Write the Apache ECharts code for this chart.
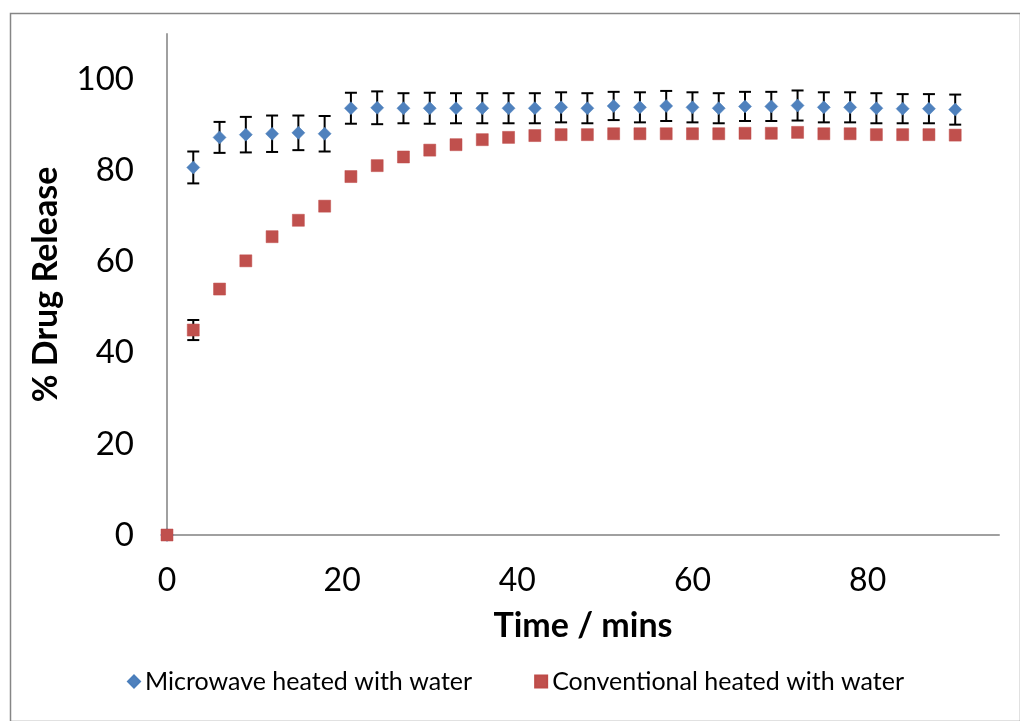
<!DOCTYPE html>
<html>
<head>
<meta charset="utf-8">
<title>% Drug Release</title>
<script src="https://cdn.jsdelivr.net/npm/echarts@6/dist/echarts.min.js"></script>
<style>
  html, body { margin: 0; padding: 0; background: #ffffff; }
  #chart { width: 1020px; height: 721px; }
</style>
</head>
<body>
<div id="chart"></div>
<script>
// Sampling times (minutes)
const timeMins = [0, 3, 6, 9, 12, 15, 18, 21, 24, 27, 30, 33, 36, 39, 42, 45,
  48, 51, 54, 57, 60, 63, 66, 69, 72, 75, 78, 81, 84, 87, 90];

// Mean % drug release, microwave heated with water
const microwave = [0, 80.7, 87.3, 87.9, 88.1, 88.3, 88.1, 93.7, 93.8, 93.7, 93.7,
  93.7, 93.7, 93.7, 93.7, 93.9, 93.7, 94.2, 93.9, 94.2, 93.9, 93.7,
  94.1, 94.1, 94.3, 93.9, 93.9, 93.7, 93.6, 93.6, 93.4];
// Standard deviation, microwave heated with water
const microwaveSd = [0, 3.5, 3.4, 3.9, 4.0, 3.8, 3.9, 3.4, 3.6, 3.3, 3.4,
  3.3, 3.3, 3.3, 3.3, 3.3, 3.3, 3.1, 3.3, 3.3, 3.3, 3.3,
  3.2, 3.2, 3.3, 3.3, 3.3, 3.3, 3.2, 3.2, 3.3];

// Mean % drug release, conventional heated with water
const conventional = [0, 45.0, 54.0, 60.2, 65.5, 69.1, 72.2, 78.7, 81.1, 83.0, 84.5,
  85.7, 86.8, 87.3, 87.7, 87.9, 87.9, 88.1, 88.1, 88.1, 88.1, 88.1,
  88.2, 88.2, 88.4, 88.1, 88.1, 87.9, 87.9, 87.9, 87.8];
// Standard deviation, conventional heated with water
const conventionalSd = [0, 2.2, 0, 0, 0, 0, 0, 0, 0, 0, 0,
  0, 0, 0, 0, 0, 0, 0, 0, 0, 0, 0,
  0, 0, 0, 0, 0, 0, 0, 0, 0];

const seriesNames = ['Microwave heated with water', 'Conventional heated with water'];
const xTicks = [0, 20, 40, 60, 80];
const yTicks = [0, 20, 40, 60, 80, 100];

const FONT = 'Lato, "Open Sans", sans-serif';
const BLUE = '#4F81BD';
const RED = '#C0504D';

function points(values) {
  return timeMins.map((t, i) => [t, values[i]]);
}
function errorData(values, sd) {
  const out = [];
  timeMins.forEach((t, i) => {
    if (sd[i] > 0) out.push([t, values[i] - sd[i], values[i] + sd[i]]);
  });
  return out;
}

// Vertical error bar with flat caps
function renderErrorBar(params, api) {
  const x = api.value(0);
  const lo = api.coord([x, api.value(1)]);
  const hi = api.coord([x, api.value(2)]);
  const half = 6;
  const style = { stroke: '#000000', lineWidth: 2, fill: null };
  return {
    type: 'group',
    children: [
      { type: 'line', shape: { x1: lo[0], y1: lo[1], x2: hi[0], y2: hi[1] }, style: style },
      { type: 'line', shape: { x1: lo[0] - half, y1: lo[1], x2: lo[0] + half, y2: lo[1] }, style: style },
      { type: 'line', shape: { x1: hi[0] - half, y1: hi[1], x2: hi[0] + half, y2: hi[1] }, style: style }
    ]
  };
}

const chart = echarts.init(document.getElementById('chart'), null, { renderer: 'canvas' });

chart.setOption({
  backgroundColor: '#ffffff',
  animation: false,
  graphic: [{
    type: 'rect',
    left: 8, top: 11,
    shape: { x: 0, y: 0, width: 1010, height: 708 },
    style: { fill: null, stroke: '#868686', lineWidth: 1.5 },
    silent: true,
    z: 0
  }],
  grid: { left: 167, right: 21, top: 34, bottom: 186, containLabel: false },
  legend: {
    data: [
      { name: seriesNames[0], icon: 'diamond' },
      { name: seriesNames[1], icon: 'rect' }
    ],
    left: 122,
    top: 664,
    itemWidth: 12,
    itemHeight: 12,
    itemGap: 62,
    textStyle: { fontFamily: FONT, fontSize: 25, color: '#000000' }
  },
  xAxis: {
    type: 'value',
    min: 0,
    max: 95,
    interval: 20,
    name: 'Time / mins',
    nameLocation: 'middle',
    nameGap: 74,
    nameTextStyle: { fontFamily: FONT, fontSize: 34, fontWeight: 'bold', color: '#000000' },
    axisLine: { show: true, onZero: false, lineStyle: { color: '#a0a0a0', width: 2 } },
    axisTick: { show: false },
    splitLine: { show: false },
    axisLabel: {
      margin: 30,
      fontFamily: FONT, fontSize: 32, color: '#000000',
      formatter: v => (xTicks.indexOf(v) >= 0 ? String(v) : '')
    }
  },
  yAxis: {
    type: 'value',
    min: 0,
    max: 110,
    interval: 20,
    name: '% Drug Release',
    nameLocation: 'middle',
    nameRotate: 90,
    nameGap: 104,
    nameTextStyle: { fontFamily: FONT, fontSize: 34, fontWeight: 'bold', color: '#000000' },
    axisLine: { show: true, lineStyle: { color: '#a0a0a0', width: 2 } },
    axisTick: { show: false },
    splitLine: { show: false },
    axisLabel: {
      margin: 33,
      fontFamily: FONT, fontSize: 33, color: '#000000',
      formatter: v => (yTicks.indexOf(v) >= 0 ? String(v) : '')
    }
  },
  series: [
    {
      name: seriesNames[0],
      type: 'scatter',
      symbol: 'diamond',
      symbolSize: 13,
      itemStyle: { color: BLUE, borderColor: '#4A7EBB', borderWidth: 0.5, opacity: 1 },
      data: points(microwave),
      z: 3
    },
    {
      name: seriesNames[0] + ' SD',
      type: 'custom',
      renderItem: renderErrorBar,
      data: errorData(microwave, microwaveSd),
      encode: { x: 0, y: [1, 2] },
      z: 2
    },
    {
      name: seriesNames[1],
      type: 'scatter',
      symbol: 'rect',
      symbolSize: 12,
      itemStyle: { color: RED, borderColor: '#BE4B48', borderWidth: 0.5, opacity: 1 },
      data: points(conventional),
      z: 5
    },
    {
      name: seriesNames[1] + ' SD',
      type: 'custom',
      renderItem: renderErrorBar,
      data: errorData(conventional, conventionalSd),
      encode: { x: 0, y: [1, 2] },
      z: 4
    }
  ]
});
</script>
</body>
</html>
